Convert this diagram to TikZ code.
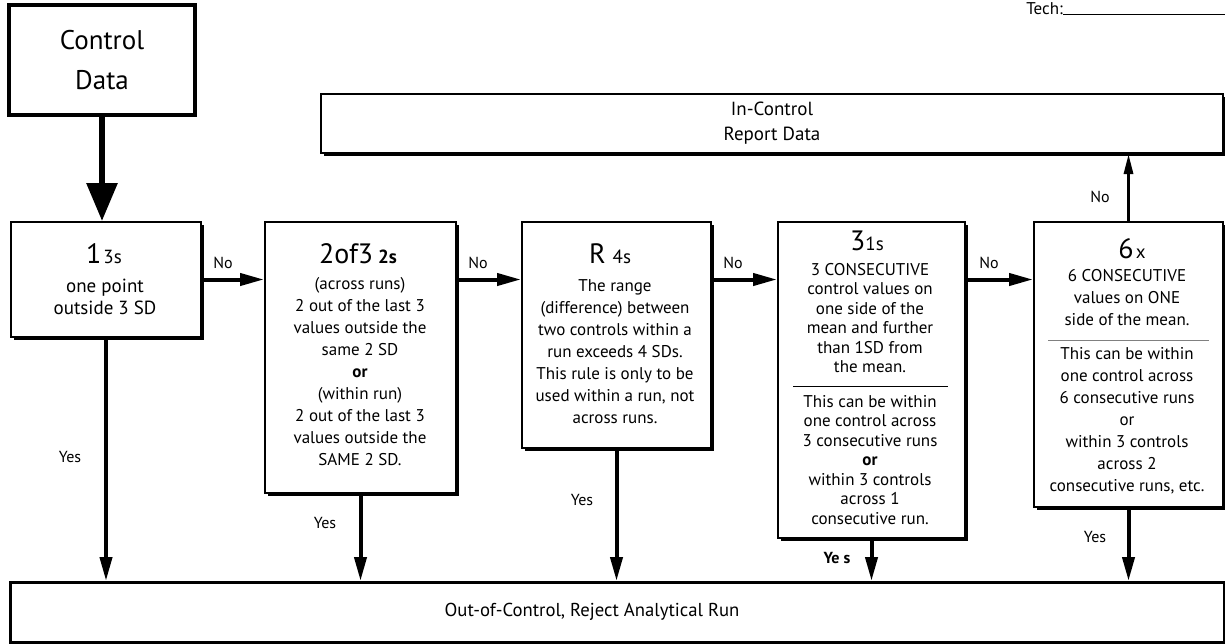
\documentclass[tikz,border=0pt]{standalone}
\usepackage{fontspec}
\setmainfont{PT Sans}
\usetikzlibrary{arrows.meta,shadows}

\begin{document}
\begin{tikzpicture}[x=1pt, y=-1pt,
    rulebox/.style={draw, line width=2pt, fill=white, anchor=north west, inner sep=0pt,
        drop shadow={shadow xshift=3pt, shadow yshift=-3pt, opacity=1, fill=black}},
    body/.style={anchor=north, align=center, inner sep=0pt, font=\fontsize{17}{22}\selectfont},
    ruletitle/.style={anchor=base, inner sep=0pt, font=\fontsize{28}{28}\selectfont},
    lab/.style={inner sep=0pt, font=\fontsize{16}{16}\selectfont},
    flow/.style={line width=4pt, -{Triangle[length=24pt,width=12pt]}}]
        \useasboundingbox (0,0) rectangle (1225,643);
        \clip (0,0) rectangle (1225,643);

        % Nodes
        \node[draw, line width=4.5pt, minimum width=186pt, minimum height=110pt, align=center,
            font=\fontsize{27}{40}\selectfont] (data) at (102,60) {Control\\Data};
        \node[rulebox, minimum width=190pt, minimum height=115pt] (r1) at (10,221) {};
        \node[rulebox, minimum width=191pt, minimum height=271pt] (r2) at (264,221) {};
        \node[rulebox, minimum width=189pt, minimum height=226pt] (r3) at (521,221) {};
        \node[rulebox, minimum width=187pt, minimum height=316pt] (r4) at (777,221) {};
        \node[rulebox, minimum width=189pt, minimum height=285pt] (r5) at (1033,221) {};
        \node[rulebox, minimum width=902pt, minimum height=59pt, align=center,
            font=\fontsize{19}{25}\selectfont] (ok) at (320,93) {In-Control\\Report Data};
        \node[draw, line width=2.5pt, fill=white, anchor=north west, minimum width=1214pt,
            minimum height=60pt] (reject) at (9,581) {};
        \node[font=\fontsize{18.7}{18.7}\selectfont] (rejecttext) at (592,612) {Out-of-Control, Reject Analytical Run};

        % Tech line
        \node[anchor=base east, inner sep=0pt, font=\fontsize{17}{17}\selectfont] (tech) at (1063,14) {Tech:};
        \coordinate (techend) at (1225,14);
        \draw[line width=1pt] (tech.base east) -- (techend);

        % Rule texts
        \node[ruletitle] (t1) at (104,263) {1\kern2pt{\fontsize{19}{19}\selectfont 3s}};
        \node[body, font=\fontsize{19}{22}\selectfont] (d1) at (105,279) {one point\\outside 3 SD};

        \node[ruletitle] (t2) at (358,263) {2of3\kern5pt{\fontsize{19}{19}\selectfont\bfseries 2s}};
        \node[body] (d2) at (360,277) {(across runs)\\2 out of the last 3\\values outside the\\same 2 SD\\
            \textbf{or}\\(within run)\\2 out of the last 3\\values outside the\\SAME 2 SD.};

        \node[ruletitle] (t3) at (610,263) {R\kern7pt{\fontsize{19}{19}\selectfont 4s}};
        \node[body] (d3) at (615,279) {The range\\(difference) between\\two controls within a\\
            run exceeds 4 SDs.\\This rule is only to be\\used within a run, not\\across runs.};

        \node[ruletitle] (t4) at (867,250) {3{\fontsize{19}{19}\selectfont 1s}};
        \node[body, font=\fontsize{17}{19.5}\selectfont] (d4) at (870,263) {3 CONSECUTIVE\\
            control values on\\one side of the\\mean and further\\than 1SD from\\the mean.};
        \node[body, font=\fontsize{17}{19.5}\selectfont] (e4) at (870,395) {This can be within\\
            one control across\\3 consecutive runs\\\textbf{or}\\within 3 controls\\across 1\\consecutive run.};
        \draw[line width=0.8pt] (793,386) -- (948,386);

        \node[ruletitle] (t5) at (1132,258) {6\kern2pt{\fontsize{19}{19}\selectfont x}};
        \node[body] (d5) at (1127,269) {6 CONSECUTIVE\\values on ONE\\side of the mean.};
        \node[body] (e5) at (1127,347) {This can be within\\one control across\\6 consecutive runs\\or\\
            within 3 controls\\across 2\\consecutive runs, etc.};
        \draw[line width=0.8pt, black!50] (1048,340) -- (1209,340);

        % Edges
        \draw[line width=6pt, -{Triangle[length=38pt,width=30pt]}] (data.south) -- (data.south |- r1.north);
        \draw[flow] (r1.east) -- (r1.east -| r2.west);
        \draw[flow] (r2.east |- r1.east) -- (r3.west |- r1.east);
        \draw[flow] (r3.east |- r1.east) -- (r4.west |- r1.east);
        \draw[flow] (r4.east |- r1.east) -- (r5.west |- r1.east);
        \draw[line width=3pt, -{Triangle[length=20pt,width=9pt]}] (r5.north) -- (r5.north |- ok.south);
        \foreach \r in {r1,r2,r3,r4,r5}
            \draw[flow] (\r.south) -- (\r.south |- reject.north);

        % Labels
        \node[lab] (no1) at (223,263) {No};
        \node[lab] (no2) at (478,263) {No};
        \node[lab] (no3) at (733,263) {No};
        \node[lab] (no4) at (989,263) {No};
        \node[lab] (no5) at (1100,197) {No};
        \node[lab] (yes1) at (70,457) {Yes};
        \node[lab] (yes2) at (325,523) {Yes};
        \node[lab] (yes3) at (582,500) {Yes};
        \node[lab, font=\fontsize{16}{16}\selectfont\bfseries] (yes4) at (837,558) {Ye s};
        \node[lab] (yes5) at (1095,537) {Yes};
    \end{tikzpicture}
\end{document}
